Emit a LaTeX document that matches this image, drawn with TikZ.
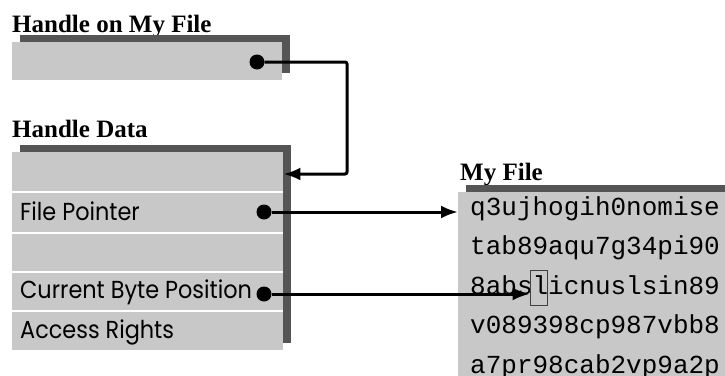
\documentclass[tikz,border=0pt]{standalone}
\usepackage{fontspec}
\setmainfont{Liberation Serif}
\setsansfont[FakeStretch=0.91]{Poppins}
\setmonofont{Liberation Mono}
\usetikzlibrary{arrows.meta, positioning, shadows}
\definecolor{PanelGray}{RGB}{200,200,200}
\definecolor{ShadowGray}{RGB}{85,85,85}

\begin{document}
\begin{tikzpicture}[x=1pt, y=-1pt,
    panel/.style={fill=PanelGray, anchor=north west, inner sep=0pt,
      drop shadow={shadow xshift=8pt, shadow yshift=7pt, fill=ShadowGray, opacity=1}},
    title/.style={anchor=base west, inner sep=0pt, font=\fontsize{25}{25}\selectfont\bfseries},
    field/.style={anchor=base west, inner sep=0pt, font=\fontsize{24.6}{25}\selectfont\sffamily},
    byteline/.style={anchor=base west, inner sep=0pt, font=\fontsize{26}{26}\selectfont\ttfamily},
    dot/.style={circle, fill=black, inner sep=0pt, minimum size=15pt},
    link/.style={line width=3pt, rounded corners=2pt, -{Latex[length=17pt, width=13pt]}}]
  \useasboundingbox (0,0) rectangle (725,375);

  \node[title] (ontitle) at (12,32) {Handle on My File};
  \node[panel, minimum width=270pt, minimum height=38pt] (handle) at (12,42) {};
  \node[dot] (hdot) at (257,62) {};

  \node[title] (datatitle) at (12,137) {Handle Data};
  \node[panel, minimum width=271pt, minimum height=198pt] (data) at (12,152) {};
  \foreach \y in {192,233,272,311}
    \draw[white, line width=2pt] (12,\y) -- (283,\y);
  \node[field] (pointer) at (20,220) {File Pointer};
  \node[field] (position) at (20,298) {Current Byte Position};
  \node[field] (rights) at (20,338) {Access Rights};
  \node[dot] (pdot) at (264,212) {};
  \node[dot] (bdot) at (264,294) {};

  \node[title] (filetitle) at (460,180) {My File};
  \node[panel, minimum width=280pt, minimum height=190pt] (myfile) at (458,192) {};
  \foreach \t [count=\i from 0] in {q3ujhogih0nomise, tab89aqu7g34pi90, 8abslicnuslsin89, v089398cp987vbb8, a7pr98cab2vp9a2p}
    \node[byteline] (line\i) at (470,215+39.5*\i) {\t};
  \node[draw=black!75, line width=0.8pt, minimum width=17pt, minimum height=35pt, inner sep=0pt] (cursor) at (538.5,287.5) {};

  \coordinate (turn) at (347,174);
  \draw[link] (hdot) -| (turn) -- (turn -| data.east);
  \draw[link] (pdot) -- (pdot -| myfile.west);
  \draw[link] (bdot) -- (bdot -| cursor.west);
\end{tikzpicture}
\end{document}
